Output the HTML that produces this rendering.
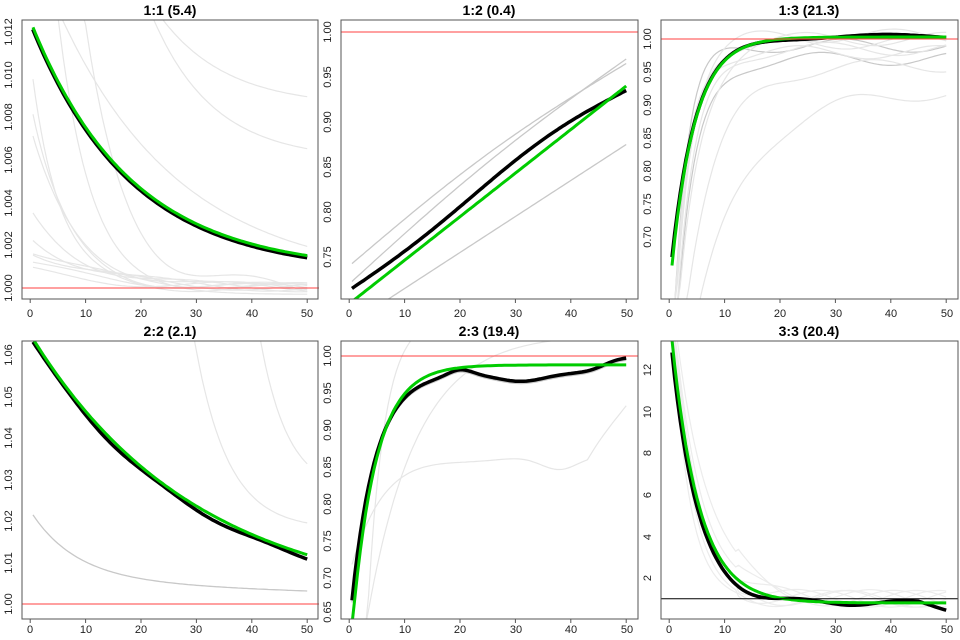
<!DOCTYPE html>
<html><head><meta charset="utf-8"><style>
html,body{margin:0;padding:0;background:#fff;width:960px;height:640px;overflow:hidden;}
svg{display:block;font-family:"Liberation Sans",Arial,sans-serif;}
.t{font-weight:bold;font-size:14px;text-anchor:middle;}
.k{font-size:11px;fill:#222;}
</style></head><body>
<svg id="s" width="960" height="640" viewBox="0 0 960 640" overflow="hidden" xmlns="http://www.w3.org/2000/svg">
<g id="curves"></g>
<g fill="none" stroke="#555" stroke-width="1">
<rect x="22" y="20" width="296" height="279"/>
<rect x="341" y="20" width="297" height="279"/>
<rect x="661" y="20" width="297" height="279"/>
<rect x="22" y="341" width="296" height="278"/>
<rect x="341" y="341" width="297" height="278"/>
<rect x="661" y="341" width="297" height="278"/>
</g>
<text class="t" x="170" y="15">1:1 (5.4)</text>
<text class="t" x="489" y="15">1:2 (0.4)</text>
<text class="t" x="809" y="15">1:3 (21.3)</text>
<text class="t" x="170" y="336">2:2 (2.1)</text>
<text class="t" x="489" y="336">2:3 (19.4)</text>
<text class="t" x="809" y="336">3:3 (20.4)</text>
<g id="ticks" stroke="#555"></g>
<g class="k" text-anchor="middle">
<text x="30" y="317">0</text><text x="86" y="317">10</text><text x="141" y="317">20</text><text x="196" y="317">30</text><text x="252" y="317">40</text><text x="307" y="317">50</text>
<text x="349" y="317">0</text><text x="405" y="317">10</text><text x="460" y="317">20</text><text x="516" y="317">30</text><text x="571" y="317">40</text><text x="627" y="317">50</text>
<text x="669" y="317">0</text><text x="725" y="317">10</text><text x="780" y="317">20</text><text x="836" y="317">30</text><text x="891" y="317">40</text><text x="947" y="317">50</text>
<text x="30" y="633">0</text><text x="86" y="633">10</text><text x="141" y="633">20</text><text x="196" y="633">30</text><text x="252" y="633">40</text><text x="307" y="633">50</text>
<text x="349" y="633">0</text><text x="405" y="633">10</text><text x="460" y="633">20</text><text x="516" y="633">30</text><text x="571" y="633">40</text><text x="627" y="633">50</text>
<text x="669" y="633">0</text><text x="725" y="633">10</text><text x="780" y="633">20</text><text x="836" y="633">30</text><text x="891" y="633">40</text><text x="947" y="633">50</text>
<text transform="translate(12,288) rotate(-90)">1.000</text>
<text transform="translate(12,245) rotate(-90)">1.002</text>
<text transform="translate(12,203) rotate(-90)">1.004</text>
<text transform="translate(12,160) rotate(-90)">1.006</text>
<text transform="translate(12,117) rotate(-90)">1.008</text>
<text transform="translate(12,75) rotate(-90)">1.010</text>
<text transform="translate(12,32) rotate(-90)">1.012</text>
<text transform="translate(331,32) rotate(-90)">1.00</text>
<text transform="translate(331,77) rotate(-90)">0.95</text>
<text transform="translate(331,122) rotate(-90)">0.90</text>
<text transform="translate(331,167) rotate(-90)">0.85</text>
<text transform="translate(331,212) rotate(-90)">0.80</text>
<text transform="translate(331,257) rotate(-90)">0.75</text>
<text transform="translate(651,39) rotate(-90)">1.00</text>
<text transform="translate(651,72) rotate(-90)">0.95</text>
<text transform="translate(651,105) rotate(-90)">0.90</text>
<text transform="translate(651,138) rotate(-90)">0.85</text>
<text transform="translate(651,171) rotate(-90)">0.80</text>
<text transform="translate(651,204) rotate(-90)">0.75</text>
<text transform="translate(651,237) rotate(-90)">0.70</text>
<text transform="translate(12,355) rotate(-90)">1.06</text>
<text transform="translate(12,397) rotate(-90)">1.05</text>
<text transform="translate(12,438) rotate(-90)">1.04</text>
<text transform="translate(12,480) rotate(-90)">1.03</text>
<text transform="translate(12,521) rotate(-90)">1.02</text>
<text transform="translate(12,563) rotate(-90)">1.01</text>
<text transform="translate(12,604) rotate(-90)">1.00</text>
<text transform="translate(331,356) rotate(-90)">1.00</text>
<text transform="translate(331,393) rotate(-90)">0.95</text>
<text transform="translate(331,430) rotate(-90)">0.90</text>
<text transform="translate(331,467) rotate(-90)">0.85</text>
<text transform="translate(331,504) rotate(-90)">0.80</text>
<text transform="translate(331,541) rotate(-90)">0.75</text>
<text transform="translate(331,578) rotate(-90)">0.70</text>
<text transform="translate(331,612) rotate(-90)">0.65</text>
<text transform="translate(651,370) rotate(-90)">12</text>
<text transform="translate(651,412) rotate(-90)">10</text>
<text transform="translate(651,453) rotate(-90)">8</text>
<text transform="translate(651,495) rotate(-90)">6</text>
<text transform="translate(651,537) rotate(-90)">4</text>
<text transform="translate(651,578) rotate(-90)">2</text>
</g>
</svg>
<script>
(function(){
var NS="http://www.w3.org/2000/svg";
var P=[
 {l:22,t:20,b:299,y0:1.000,p0:288,y1:1.012,p1:32},
 {l:341,t:20,b:299,y0:0.75,p0:257,y1:1.00,p1:32},
 {l:661,t:20,b:299,y0:0.70,p0:237,y1:1.00,p1:39},
 {l:22,t:341,b:619,y0:1.00,p0:604,y1:1.06,p1:355},
 {l:341,t:341,b:619,y0:0.65,p0:615,y1:1.00,p1:356},
 {l:661,t:341,b:619,y0:2,p0:578,y1:12,p1:370}
];
var g=document.getElementById('curves');
var tk=document.getElementById('ticks');
P.forEach(function(p,i){
  var cp=document.createElementNS(NS,'clipPath');cp.id='c'+i;
  var r=document.createElementNS(NS,'rect');r.setAttribute('x',p.l);r.setAttribute('y',p.t);r.setAttribute('width',297);r.setAttribute('height',p.b-p.t);
  cp.appendChild(r);g.appendChild(cp);
  p.g=document.createElementNS(NS,'g');p.g.setAttribute('clip-path','url(#c'+i+')');g.appendChild(p.g);
  for(var k=0;k<=5;k++){var x=p.l+8.2+k*55.4;line(tk,x,p.b,x,p.b+4);}
});
function line(par,x1,y1,x2,y2){var e=document.createElementNS(NS,'line');e.setAttribute('x1',x1);e.setAttribute('y1',y1);e.setAttribute('x2',x2);e.setAttribute('y2',y2);par.appendChild(e);}
function X(p,t){return p.l+8.2+t*5.54;}
function Y(p,v){var y=p.p0+(v-p.y0)*(p.p1-p.p0)/(p.y1-p.y0);return Math.max(p.t-5,Math.min(p.b+5,y));}
function draw(i,f,col,w,t0,t1){var p=P[i];t0=t0||0.5;t1=t1||50;var d='';
 for(var t=t0;t<=t1+1e-9;t+=0.5){d+=(d?'L':'M')+X(p,t).toFixed(1)+','+Y(p,f(t)).toFixed(1);}
 var e=document.createElementNS(NS,'path');e.setAttribute('d',d);e.setAttribute('fill','none');e.setAttribute('stroke',col);e.setAttribute('stroke-width',w);e.setAttribute('stroke-linejoin','round');p.g.appendChild(e);}
function hl(i,v,col){var p=P[i];line(p.g,p.l,Y(p,v),p.l+297,Y(p,v));p.g.lastChild.setAttribute('stroke',col);}
var E=Math.exp,G='#e6e6e6',G2='#c8c8c8';
[0.0108,0.0086,0.0074,0.0037,0.0025,0.0018,0.0017,0.0011,0.0008].forEach(function(a,j){draw(0,function(t){return 1+a*E(-t/(5+j*1.5))+0.0002*Math.sin(t/6+j);},G,1.2);});
draw(0,function(t){return 1+0.03*E(-t/6)-0.0003;},G,1.2);
draw(0,function(t){return 1+0.05*E(-t/7)+0.0004*Math.sin(t/5);},G,1.2);
draw(0,function(t){return 1+0.016*E(-t/22)+0.0003;},G,1.2);
draw(0,function(t){return 1.0085+0.03*E(-t/12);},G,1.2);
draw(0,function(t){return 1.0060+0.05*E(-t/11);},G,1.2);
draw(0,function(t){return 1+0.01175*E(-t/18)+0.0007;},'#000',4);
draw(0,function(t){return 1+0.01175*E(-t/18)+0.00079;},'#00cc00',3);
hl(0,1.0,'#ff4040');
draw(1,function(t){return 0.74+0.225*(t/50)+0.012*Math.sin(Math.PI*t/50);},G2,1.3);
draw(1,function(t){return 0.72+0.25*(t/50)+0.01*Math.sin(Math.PI*t/50);},G2,1.3);
draw(1,function(t){return 0.675+0.2*(t/50);},G2,1.3);
draw(1,function(t){var s=t/50;return 0.713+0.222*s+0.008*Math.sin(Math.PI*s)-0.006*Math.sin(2*Math.PI*s);},'#000',3.5);
draw(1,function(t){return 0.698+0.242*(t/50);},'#00cc00',3);
hl(1,1.0,'#ff4040');
[[2.5,0.99],[3.5,0.97],[2.5,0.98],[4,0.995],[3,1.005],[6,0.96],[9,0.92],[3.5,0.985],[3,1.0]].forEach(function(q,j){draw(2,function(t){return q[1]-0.6*E(-t/q[0])+0.01*Math.sin(t/4+j);},j<2?G2:G,1.2);});
draw(2,function(t){return 1.004-0.375*E(-t/4.4)+0.003*Math.sin(t/5);},'#000',3.5);
draw(2,function(t){return 1.003-0.39*E(-t/4.2);},'#00cc00',3);
hl(2,1.0,'#ff4040');
draw(3,function(t){return 1.0015+0.016*E(-t/8)+0.006*E(-t/60)-0.001;},G2,1.3);
draw(3,function(t){return 1.018+0.06*E(-(t-28)/6);},G,1.2,20,50);
draw(3,function(t){return 1.027+0.05*E(-(t-40)/5);},G,1.2,30,50);
draw(3,function(t){return 1.0-0.0009+0.0655*E(-t/30)-0.0004+0.0003*Math.sin(t/3);},'#000',3.5);
draw(3,function(t){return 1.0-0.0005+0.0655*E(-t/30);},'#00cc00',3);
hl(3,1.0,'#ff4040');
draw(4,function(t){return 0.865-0.16*E(-t/6)+0.004*Math.sin(t/5)-0.022*E(-Math.pow((t-38)/5,2))+0.07*Math.max(0,(t-43)/7);},G,1.2);
draw(4,function(t){return 1.03-0.55*E(-t/9);},G,1.2);
draw(4,function(t){return 1.05-1.2*E(-t/3);},G,1.2);
function bk(t){return 0.985-0.345*E(-t/4.3)+0.008*E(-Math.pow((t-20)/3,2))-0.011*E(-Math.pow((t-31)/6,2))+0.022/(1+E(-(t-46)*0.6))-0.008;}
draw(4,function(t){return bk(t)-0.003;},G2,1.3);
draw(4,bk,'#000',3.5);
draw(4,function(t){return 0.988-0.4*E(-t/4.3);},'#00cc00',3);
hl(4,1.0,'#ff4040');
[3,3.5,4,4.5,5,6,3.8].forEach(function(tau,j){draw(5,function(t){return 1+16*E(-t/tau)+0.4*Math.sin(t/4+j)*(t>12?1:0.3);},'#ececec',1.2);});
draw(5,function(t){return 0.8+13.4*E(-t/4.6)+0.12*Math.sin(t/3)-0.25*(t>45?(t-45)/5:0);},'#000',3.5);
draw(5,function(t){return 0.8+14*E(-t/4.9);},'#00cc00',3);
hl(5,1.0,'#000');
})();
</script>
</body></html>
